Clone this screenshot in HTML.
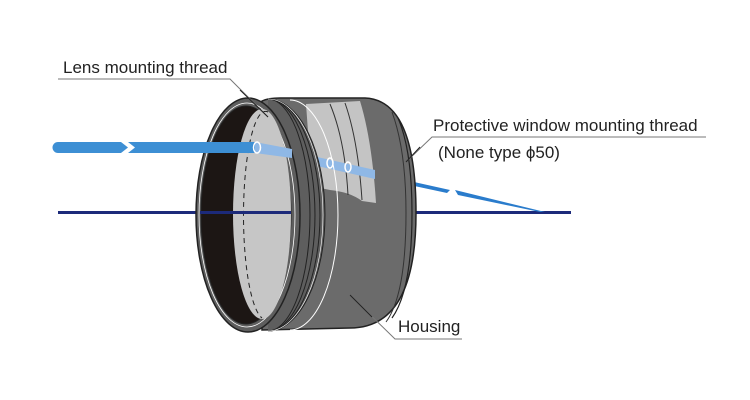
<!DOCTYPE html>
<html><head><meta charset="utf-8"><style>
html,body{margin:0;padding:0;background:#fff;}
svg{display:block}
text{font-family:"Liberation Sans",sans-serif;font-size:17px;fill:#222}
</style></head><body>
<svg width="750" height="400" viewBox="0 0 750 400" xmlns="http://www.w3.org/2000/svg">
<line x1="58" y1="212.5" x2="571" y2="212.5" stroke="#1c2a7a" stroke-width="3"/>
<path d="M405 180 L450 190 L447 193 L405 184 Z" fill="#2a7ccc"/>
<path d="M455 190 L545 212 L540 212 L458 195 Z" fill="#2a7ccc"/>
<!-- body -->
<path d="M262 101 Q268 98 280 98 L365 98 Q416 100 416 213 Q416 328 350 328 L262 330 Z" fill="#6b6b6b" stroke="#222" stroke-width="1.5"/>
<path d="M398 118 Q412 150 412 213 Q412 290 392 318" fill="none" stroke="#222" stroke-width="1.2"/>
<path d="M392 112 Q406 150 406 213 Q406 295 386 322" fill="none" stroke="#333" stroke-width="1"/>
<!-- cutaway window -->
<path d="M306 104 L360 101 Q372 140 376 203 L362 201 Q350 192 330 190 Q320 188 312 186 Z" fill="#c4c4c4"/>
<path d="M330 104 Q345 140 348 195" fill="none" stroke="#333" stroke-width="1"/>
<path d="M345 103 Q358 140 362 200" fill="none" stroke="#333" stroke-width="1"/>
<path d="M255 143 L375 170 L375 179 L255 152 Z" fill="#8fb8e6"/>
<ellipse cx="330" cy="163" rx="3" ry="5" fill="none" stroke="#fff" stroke-width="1.5"/>
<ellipse cx="348" cy="167" rx="3" ry="5" fill="none" stroke="#fff" stroke-width="1.5"/>
<!-- housing front white edge -->
<path d="M290 100 A48 115 0 0 1 290 330" fill="none" stroke="#fff" stroke-width="1"/>
<!-- threads -->
<path d="M268 99 A57 116 0 0 1 268 331" fill="#5e5e5e" stroke="#222" stroke-width="1"/>
<path d="M268 99 A52 116 0 0 1 268 331" fill="none" stroke="#222" stroke-width="1"/>
<path d="M268 99 A47 116 0 0 1 268 331" fill="none" stroke="#222" stroke-width="1"/>
<path d="M268 99 A42 116 0 0 1 268 331" fill="none" stroke="#222" stroke-width="1"/>
<path d="M268 99 A55 116 0 0 1 268 331" fill="none" stroke="#fff" stroke-width="0.6"/>
<!-- front rim -->
<ellipse cx="248" cy="215" rx="52" ry="117" fill="#5e5e5e" stroke="#222" stroke-width="1.5"/>
<ellipse cx="247" cy="215" rx="48" ry="112" fill="none" stroke="#fff" stroke-width="0.8"/>
<ellipse cx="246" cy="215" rx="45" ry="109" fill="#1c1614" stroke="#222"/>
<ellipse cx="262" cy="214" rx="29" ry="105" fill="#c6c6c6"/>
<path d="M268 112 A22 104 0 0 0 262 318" fill="none" stroke="#222" stroke-width="1" stroke-dasharray="5,4"/>
<line x1="200" y1="212.5" x2="291" y2="212.5" stroke="#1c2a7a" stroke-width="3"/>
<!-- input beam -->
<path d="M58 142 L121 142 L128 147.5 L121 153 L58 153 A5.5 5.5 0 0 1 58 142 Z" fill="#3d8fd4"/>
<path d="M128 142 L255 142 L255 153 L128 153 L135 147.5 Z" fill="#3d8fd4"/>
<path d="M255 142 L292 149 L292 158 L255 153 Z" fill="#8fb8e6"/>
<ellipse cx="257" cy="147.5" rx="3.5" ry="5.5" fill="none" stroke="#fff" stroke-width="1.5"/>
<!-- labels -->
<text x="63" y="73">Lens mounting thread</text>
<polyline points="58,79 230,79 268,117" fill="none" stroke="#777" stroke-width="1"/>
<line x1="240" y1="90" x2="268" y2="117" stroke="#222" stroke-width="1"/>
<text x="433" y="131">Protective window mounting thread</text>
<polyline points="706,137 432,137 406,162" fill="none" stroke="#777" stroke-width="1"/>
<line x1="420" y1="147" x2="406" y2="162" stroke="#222" stroke-width="1"/>
<text x="438" y="158">(None type ϕ50)</text>
<text x="398" y="332">Housing</text>
<polyline points="462,339 395,339 350,295" fill="none" stroke="#777" stroke-width="1"/>
<line x1="372" y1="317" x2="350" y2="295" stroke="#222" stroke-width="1"/>
</svg>
</body></html>
